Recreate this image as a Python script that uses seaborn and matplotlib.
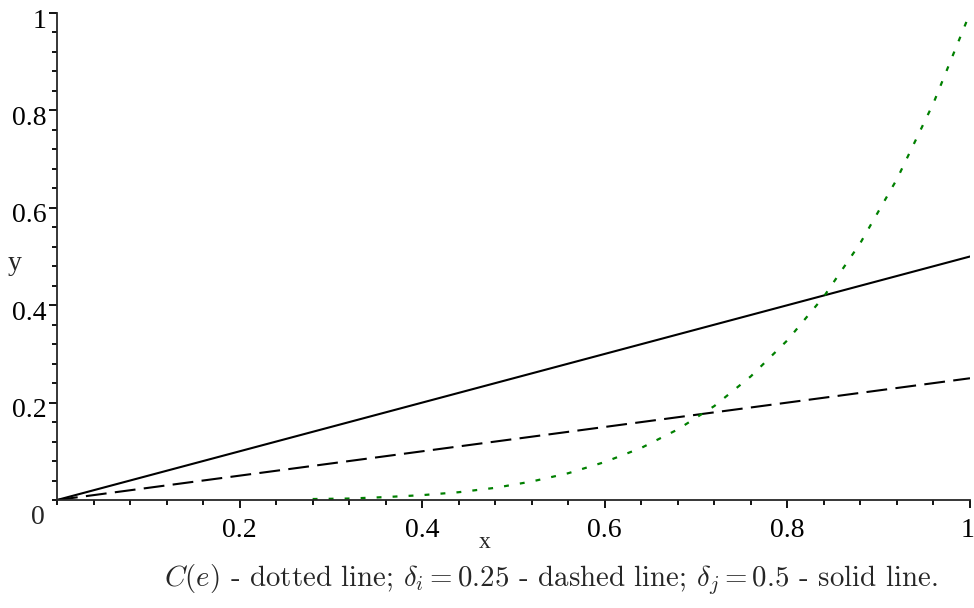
import numpy as np
import pandas as pd
import matplotlib
matplotlib.use("Agg")
import matplotlib.pyplot as plt
import matplotlib.transforms as mtransforms
from matplotlib.ticker import MultipleLocator
import seaborn as sns

# ---- data ----
x_lin = [0.0, 0.1, 0.2, 0.3, 0.4, 0.5, 0.6, 0.7, 0.8, 0.9, 1.0]
solid_y = [0.0, 0.05, 0.10, 0.15, 0.20, 0.25, 0.30, 0.35, 0.40, 0.45, 0.50]
dashed_y = [0.0, 0.025, 0.05, 0.075, 0.10, 0.125, 0.15, 0.175, 0.20, 0.225, 0.25]

x_c = [0.28, 0.32, 0.36, 0.40, 0.44, 0.48, 0.52, 0.56,
       0.60, 0.64, 0.68, 0.72, 0.76, 0.80, 0.84, 0.88, 0.92, 0.96, 1.0]
c_y = [0.002, 0.003, 0.006, 0.010, 0.016, 0.025, 0.038, 0.055,
       0.078, 0.107, 0.145, 0.193, 0.254, 0.328, 0.418, 0.528, 0.659, 0.815, 1.0]

x_ticks = [0.2, 0.4, 0.6, 0.8, 1.0]
x_tick_labels = ["0.2", "0.4", "0.6", "0.8", "1"]
y_ticks = [0.2, 0.4, 0.6, 0.8, 1.0]
y_tick_labels = ["0.2", "0.4", "0.6", "0.8", "1"]
caption = (r"$C(e)$ - dotted line; $\delta_i = 0.25$ - dashed line; "
           r"$\delta_j = 0.5$ - solid line.")

sns.set_theme(style="ticks")
plt.rcParams["font.family"] = ["Liberation Serif", "DejaVu Serif"]
plt.rcParams["mathtext.fontset"] = "cm"

fig = plt.figure(figsize=(9.74, 6.08), dpi=100)
ax = fig.add_axes([57 / 974, 1 - 500 / 608, (970 - 57) / 974, (500 - 13) / 608])

df_lin = pd.DataFrame({"x": x_lin, "solid": solid_y, "dashed": dashed_y})
df_c = pd.DataFrame({"x": x_c, "c": c_y})

sns.lineplot(data=df_lin, x="x", y="solid", ax=ax, color="black", lw=1.5)
sns.lineplot(data=df_lin, x="x", y="dashed", ax=ax, color="black", lw=1.5)
ax.lines[-1].set_dashes((10, 4))
sns.lineplot(data=df_c, x="x", y="c", ax=ax, color="#008000", lw=1.6)
ax.lines[-1].set_dashes((2.2, 5))

ax.set_xlim(0, 1)
ax.set_ylim(0, 1)
for s in ["top", "right"]:
    ax.spines[s].set_visible(False)
for s in ["left", "bottom"]:
    ax.spines[s].set_linewidth(1.3)
    ax.spines[s].set_zorder(5)

ax.set_xticks(x_ticks)
ax.set_xticklabels(x_tick_labels)
ax.set_yticks(y_ticks)
ax.set_yticklabels(y_tick_labels)
ax.xaxis.set_minor_locator(MultipleLocator(0.04))
ax.yaxis.set_minor_locator(MultipleLocator(0.04))
ax.tick_params(which="major", direction="out", length=6, width=1.3,
               labelsize=20, color="black", labelcolor="black")
ax.tick_params(axis="x", which="major", pad=7)
ax.tick_params(axis="y", which="major", pad=1.5)
ax.tick_params(which="minor", direction="out", length=3.5, width=1.3, color="black")

shift = mtransforms.ScaledTranslation(0, -5 / 100, fig.dpi_scale_trans)
for lab in ax.get_yticklabels():
    lab.set_transform(lab.get_transform() + shift)
ax.get_xticklabels()[-1].set_horizontalalignment("right")
ax.get_xticklabels()[-1].set_transform(
    ax.get_xticklabels()[-1].get_transform()
    + mtransforms.ScaledTranslation(4 / 100, 0, fig.dpi_scale_trans))

ax.set_xlabel("")
ax.set_ylabel("")
fig.text(485 / 974, 1 - 542 / 608, "x", fontsize=17, ha="center", va="center")
fig.text(15 / 974, 1 - 263 / 608, "y", fontsize=20, ha="center", va="center")
fig.text(38 / 974, 1 - 518 / 608, "0", fontsize=20, ha="center", va="center")
fig.text(551 / 974, 1 - 580 / 608, caption, fontsize=20.8, ha="center",
         va="center", family="cmr10")

fig.savefig("out.png", dpi=100)
